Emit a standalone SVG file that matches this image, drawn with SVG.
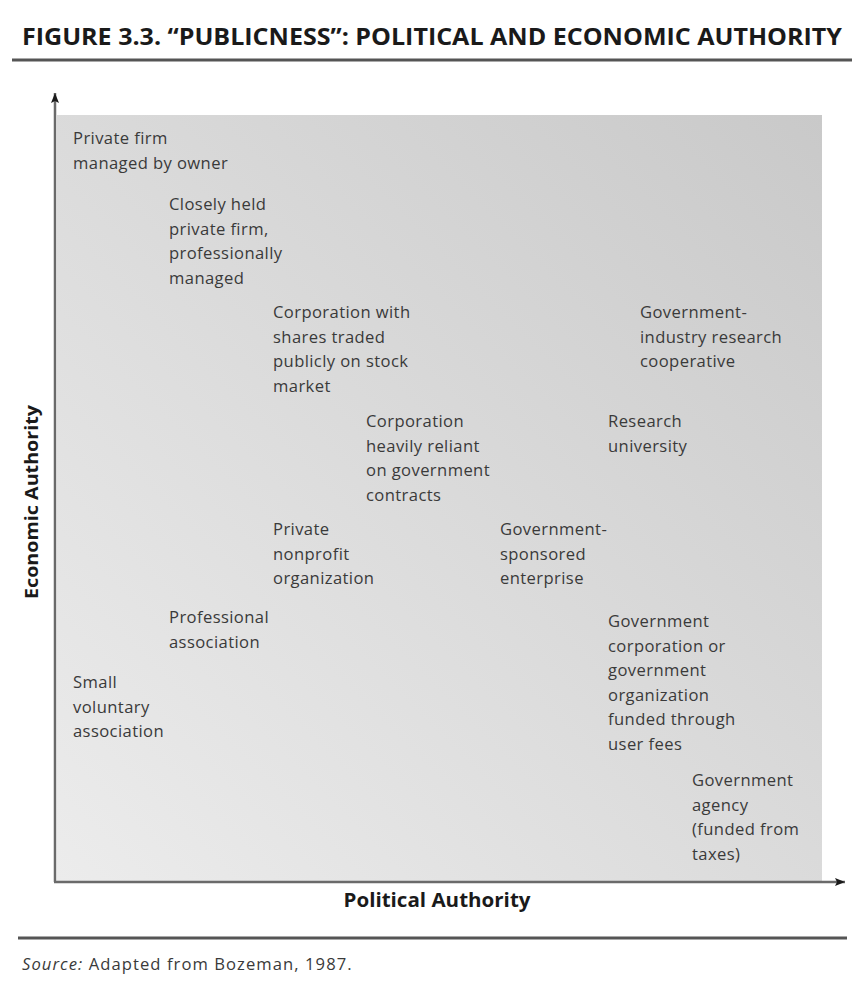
<svg xmlns="http://www.w3.org/2000/svg" width="864" height="987" viewBox="0 0 864 987">
<style>
.t{font-family:"Open Sans","Liberation Sans",sans-serif;font-size:16.6px;letter-spacing:0.4px;fill:#3a3a3a}
.ax{stroke:#6a6a6a;stroke-width:2.5;fill:none}
.rule{stroke:#555;stroke-width:3}
.lab{font-family:"Open Sans","Liberation Sans",sans-serif;font-weight:bold;fill:#1a1a1a}
</style>
<defs>
<linearGradient id="bg" x1="0" y1="1" x2="1" y2="0">
<stop offset="0" stop-color="#ececec"/>
<stop offset="1" stop-color="#c9c9c9"/>
</linearGradient>
<marker id="ah" viewBox="0 0 10 10" refX="10" refY="5" markerWidth="12" markerHeight="10" orient="auto" markerUnits="userSpaceOnUse">
<path d="M0,1 L10,5 L0,9 L2,5 Z" fill="#1a1a1a"/>
</marker>
</defs>
<rect width="864" height="987" fill="#fff"/>
<text x="22" y="45" class="lab" font-size="23" textLength="820" lengthAdjust="spacingAndGlyphs">FIGURE 3.3.  “PUBLICNESS”: POLITICAL AND ECONOMIC AUTHORITY</text>
<line class="rule" x1="12" y1="60" x2="852" y2="60"/>
<rect x="57" y="115" width="765" height="766" fill="url(#bg)"/>
<g id="axes">
<line class="ax" x1="55" y1="882" x2="55" y2="93" marker-end="url(#ah)"/>
<line class="ax" x1="54" y1="882" x2="845" y2="882" marker-end="url(#ah)"/>
</g>
<text class="lab" font-size="19" x="437" y="907" text-anchor="middle" textLength="187" lengthAdjust="spacingAndGlyphs">Political Authority</text>
<text class="lab" font-size="17.5" transform="translate(38,502) rotate(-90)" text-anchor="middle" textLength="194" lengthAdjust="spacingAndGlyphs">Economic Authority</text>
<g id="n1"><text class="t" x="73" y="144">Private firm<tspan x="73" dy="24.5">managed by owner</tspan></text></g>
<g id="n2"><text class="t" x="169" y="210">Closely held<tspan x="169" dy="24.5">private firm,</tspan><tspan x="169" dy="24.5">professionally</tspan><tspan x="169" dy="24.5">managed</tspan></text></g>
<g id="n3"><text class="t" x="273" y="318">Corporation with<tspan x="273" dy="24.5">shares traded</tspan><tspan x="273" dy="24.5">publicly on stock</tspan><tspan x="273" dy="24.5">market</tspan></text></g>
<g id="n4"><text class="t" x="640" y="318">Government-<tspan x="640" dy="24.5">industry research</tspan><tspan x="640" dy="24.5">cooperative</tspan></text></g>
<g id="n5"><text class="t" x="366" y="427">Corporation<tspan x="366" dy="24.5">heavily reliant</tspan><tspan x="366" dy="24.5">on government</tspan><tspan x="366" dy="24.5">contracts</tspan></text></g>
<g id="n6"><text class="t" x="608" y="427">Research<tspan x="608" dy="24.5">university</tspan></text></g>
<g id="n7"><text class="t" x="273" y="535">Private<tspan x="273" dy="24.5">nonprofit</tspan><tspan x="273" dy="24.5">organization</tspan></text></g>
<g id="n8"><text class="t" x="500" y="535">Government-<tspan x="500" dy="24.5">sponsored</tspan><tspan x="500" dy="24.5">enterprise</tspan></text></g>
<g id="n9"><text class="t" x="169" y="623">Professional<tspan x="169" dy="24.5">association</tspan></text></g>
<g id="n10"><text class="t" x="608" y="627">Government<tspan x="608" dy="24.5">corporation or</tspan><tspan x="608" dy="24.5">government</tspan><tspan x="608" dy="24.5">organization</tspan><tspan x="608" dy="24.5">funded through</tspan><tspan x="608" dy="24.5">user fees</tspan></text></g>
<g id="n11"><text class="t" x="73" y="688">Small<tspan x="73" dy="24.5">voluntary</tspan><tspan x="73" dy="24.5">association</tspan></text></g>
<g id="n12"><text class="t" x="692" y="786">Government<tspan x="692" dy="24.5">agency</tspan><tspan x="692" dy="24.5">(funded from</tspan><tspan x="692" dy="24.5">taxes)</tspan></text></g>
<line class="rule" x1="18" y1="938" x2="847" y2="938" stroke-width="2.5"/>
<text class="t" x="22" y="970" fill="#333" textLength="330" lengthAdjust="spacing"><tspan font-style="italic">Source:</tspan> Adapted from Bozeman, 1987.</text>
</svg>
